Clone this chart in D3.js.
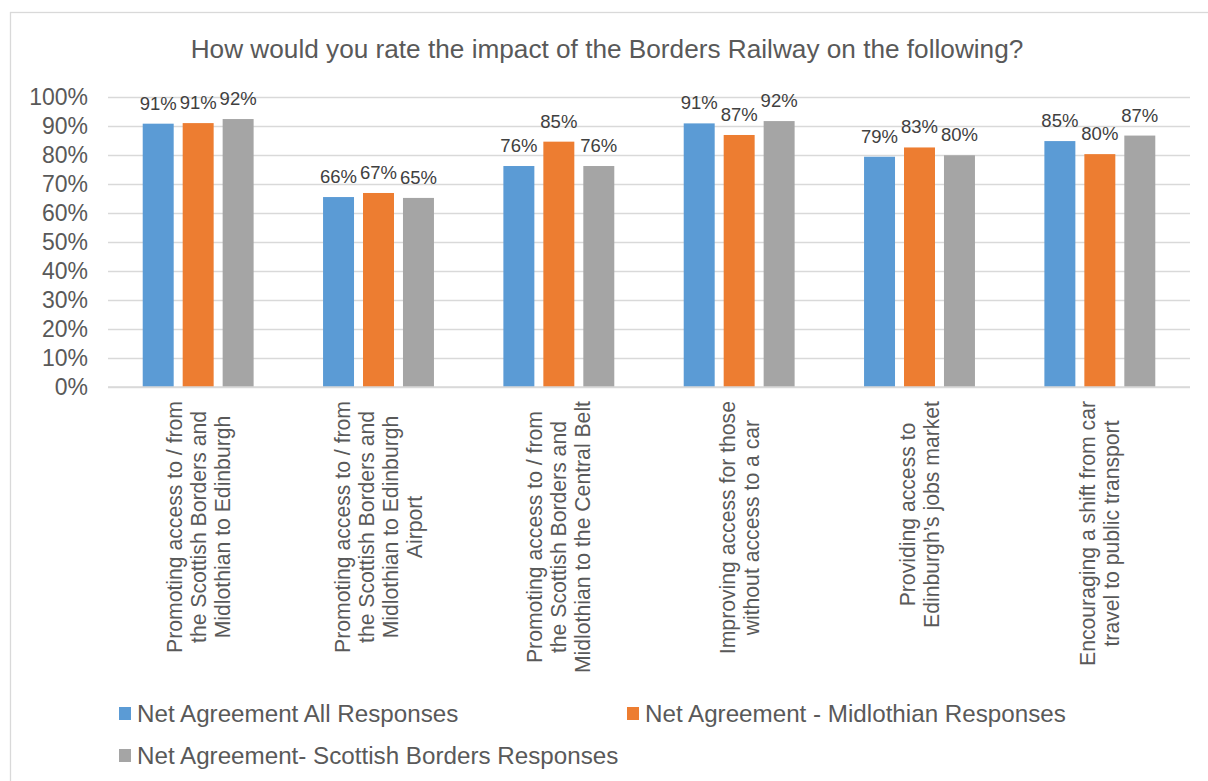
<!DOCTYPE html>
<html>
<head>
<meta charset="utf-8">
<script src="https://cdn.jsdelivr.net/npm/d3@7"></script>
<style>
  html, body { margin: 0; padding: 0; background: #ffffff; }
  svg { display: block; font-family: Arial, "Liberation Sans", sans-serif; }
</style>
</head>
<body>
<svg id="chart" width="1208" height="781"></svg>
<script>
const titleText = "How would you rate the impact of the Borders Railway on the following?";
const categories = [
  ["Promoting access to / from", "the Scottish Borders and", "Midlothian to Edinburgh"],
  ["Promoting access to / from", "the Scottish Borders and", "Midlothian to Edinburgh", "Airport"],
  ["Promoting access to / from", "the Scottish Borders and", "Midlothian to the Central Belt"],
  ["Improving access for those", "without access to a car"],
  ["Providing access to", "Edinburgh\u2019s jobs market"],
  ["Encouraging a shift from car", "travel to public transport"]
];
const seriesNames = [
  "Net Agreement All Responses",
  "Net Agreement - Midlothian Responses",
  "Net Agreement- Scottish Borders Responses"
];
const allResponses      = [0.908, 0.655, 0.762, 0.909, 0.794, 0.848];
const midlothian        = [0.910, 0.669, 0.846, 0.869, 0.826, 0.803];
const scottishBorders   = [0.924, 0.652, 0.762, 0.917, 0.799, 0.867];
const seriesColors = ["#5B9BD5", "#ED7D31", "#A5A5A5"];
const yTicks = [0, 0.1, 0.2, 0.3, 0.4, 0.5, 0.6, 0.7, 0.8, 0.9, 1.0];

const seriesValues = [allResponses, midlothian, scottishBorders];
const catIdx = categories.map((c, i) => i);

const svg = d3.select("#chart");
const textColor = "#595959";
const gridColor = "#d9d9d9";

// outer chart border
svg.append("rect")
  .attr("x", 10.5).attr("y", 12.5)
  .attr("width", 1220).attr("height", 800)
  .attr("fill", "#ffffff").attr("stroke", gridColor).attr("stroke-width", 1.3);

// title
svg.append("text")
  .attr("x", 607).attr("y", 58)
  .attr("text-anchor", "middle")
  .attr("font-size", 26.2)
  .attr("fill", textColor)
  .text(titleText);

const plot = { left: 108, right: 1190, top: 97, bottom: 387 };

const y = d3.scaleLinear().domain([0, 1]).range([plot.bottom, plot.top]);
const x0 = d3.scaleBand().domain(catIdx).range([plot.left, plot.right]).paddingInner(0).paddingOuter(0);
const groupW = x0.bandwidth() * 0.615;
const x1 = d3.scaleBand().domain([0, 1, 2]).range([0, groupW]).paddingInner(0.225).paddingOuter(0);
const groupOffset = (x0.bandwidth() - groupW) / 2;

// gridlines
const yAxis = d3.axisLeft(y).tickValues(yTicks).tickSize(-(plot.right - plot.left)).tickFormat(d3.format(".0%"));
const gy = svg.append("g").attr("transform", `translate(${plot.left},0)`).call(yAxis);
gy.select(".domain").remove();
gy.selectAll(".tick line").attr("stroke", gridColor).attr("stroke-width", 1.3);
gy.selectAll(".tick text")
  .attr("x", -20)
  .attr("fill", textColor)
  .attr("font-size", 23)
  .attr("font-family", "Arial, 'Liberation Sans', sans-serif");

// bars
const groups = svg.append("g").selectAll("g.cat")
  .data(catIdx).join("g")
  .attr("transform", d => `translate(${x0(d) + groupOffset},0)`);

groups.selectAll("rect")
  .data(ci => seriesValues.map((vals, si) => ({ si, v: vals[ci] })))
  .join("rect")
  .attr("x", d => x1(d.si))
  .attr("width", x1.bandwidth())
  .attr("y", d => y(d.v))
  .attr("height", d => y(0) - y(d.v))
  .attr("fill", d => seriesColors[d.si]);

// data labels
groups.selectAll("text.lbl")
  .data(ci => seriesValues.map((vals, si) => ({ si, v: vals[ci] })))
  .join("text")
  .attr("class", "lbl")
  .attr("x", d => x1(d.si) + x1.bandwidth() / 2)
  .attr("y", d => y(d.v) - 14)
  .attr("text-anchor", "middle")
  .attr("font-size", 18.5)
  .attr("fill", "#404040")
  .text(d => d3.format(".0%")(d.v));

// bottom axis line
svg.append("line")
  .attr("x1", plot.left).attr("x2", plot.right)
  .attr("y1", y(0)).attr("y2", y(0))
  .attr("stroke", gridColor).attr("stroke-width", 1.3);

// category labels (rotated, multiline, centered lines)
const lineH = 24;
const labelTop = 401;
categories.forEach((lines, ci) => {
  const cx = x0(ci) + x0.bandwidth() / 2;
  const g = svg.append("g");
  const texts = lines.map((ln, li) => {
    return g.append("text")
      .attr("font-size", 21.2)
      .attr("fill", textColor)
      .attr("text-anchor", "middle")
      .attr("dominant-baseline", "central")
      .text(ln);
  });
  const maxLen = d3.max(texts, t => t.node().getComputedTextLength());
  const cy = labelTop + maxLen / 2;
  texts.forEach((t, li) => {
    const lx = cx + (li - (lines.length - 1) / 2) * lineH;
    t.attr("transform", `translate(${lx},${cy}) rotate(-90)`);
  });
});

// legend
const legendPos = [
  { x: 119, y: 707 },
  { x: 627, y: 707 },
  { x: 119, y: 749 }
];
seriesNames.forEach((name, i) => {
  const p = legendPos[i];
  svg.append("rect")
    .attr("x", p.x).attr("y", p.y)
    .attr("width", 12).attr("height", 13)
    .attr("fill", seriesColors[i]);
  svg.append("text")
    .attr("x", p.x + 18).attr("y", p.y + 6.5)
    .attr("dominant-baseline", "central")
    .attr("font-size", 24.2)
    .attr("fill", textColor)
    .text(name);
});
</script>
</body>
</html>
